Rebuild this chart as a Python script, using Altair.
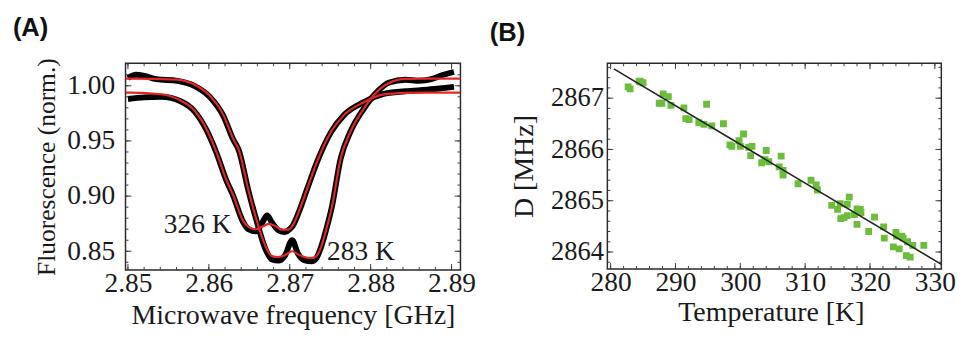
import altair as alt
import pandas as pd

# ---------------- Panel A data (ODMR spectra) ----------------
fit326_f = [2.8497, 2.8504, 2.8541, 2.8565, 2.8582, 2.8597, 2.8609, 2.8622, 2.8630, 2.8642,
            2.8649, 2.8658, 2.8666, 2.8674, 2.8682, 2.8690, 2.8698, 2.8704, 2.8712, 2.8722,
            2.8734, 2.8751, 2.8767, 2.8791, 2.8815, 2.8843, 2.8870, 2.8911]
fit326_v = [0.9938, 0.9938, 0.9923, 0.9867, 0.9778, 0.9609, 0.9405, 0.9139, 0.9010, 0.8780,
            0.8722, 0.8700, 0.8722, 0.8749, 0.8731, 0.8696, 0.8696, 0.8740, 0.8873, 0.9077,
            0.9317, 0.9583, 0.9734, 0.9849, 0.9920, 0.9935, 0.9938, 0.9938]

fit283_f = [2.8497, 2.8504, 2.8561, 2.8582, 2.8601, 2.8618, 2.8630, 2.8637, 2.8649, 2.8660,
            2.8670, 2.8678, 2.8686, 2.8694, 2.8703, 2.8710, 2.8718, 2.8727, 2.8733, 2.8739,
            2.8746, 2.8752, 2.8763, 2.8775, 2.8791, 2.8807, 2.8823, 2.8843, 2.8870, 2.8911]
fit283_v = [1.0065, 1.0065, 1.0056, 1.0011, 0.9911, 0.9734, 0.9521, 0.9420, 0.9051, 0.8758,
            0.8545, 0.8456, 0.8447, 0.8465, 0.8500, 0.8474, 0.8447, 0.8438, 0.8456, 0.8545,
            0.8722, 0.8900, 0.9343, 0.9583, 0.9787, 0.9938, 1.0027, 1.0062, 1.0065, 1.0065]

data326_f = [2.8500, 2.8520, 2.8541, 2.8565, 2.8582, 2.8597, 2.8609, 2.8622, 2.8630, 2.8642,
             2.8649, 2.8658, 2.8666, 2.8672, 2.8678, 2.8686, 2.8694, 2.8700, 2.8704, 2.8712,
             2.8722, 2.8734, 2.8751, 2.8767, 2.8791, 2.8815, 2.8843, 2.8870, 2.8885, 2.8903]
data326_v = [0.9880, 0.9895, 0.9900, 0.9860, 0.9770, 0.9600, 0.9400, 0.9135, 0.9005, 0.8770,
             0.8700, 0.8680, 0.8760, 0.8825, 0.8760, 0.8690, 0.8675, 0.8700, 0.8735, 0.8870,
             0.9075, 0.9315, 0.9580, 0.9734, 0.9849, 0.9925, 0.9950, 0.9965, 0.9975, 0.9990]

data283_f = [2.8500, 2.8510, 2.8520, 2.8535, 2.8561, 2.8582, 2.8601, 2.8618, 2.8630, 2.8637,
             2.8649, 2.8660, 2.8670, 2.8678, 2.8686, 2.8694, 2.8703, 2.8710, 2.8718, 2.8727,
             2.8733, 2.8739, 2.8746, 2.8752, 2.8763, 2.8775, 2.8791, 2.8807, 2.8823, 2.8843,
             2.8860, 2.8875, 2.8890, 2.8903]
data283_v = [1.0070, 1.0100, 1.0090, 1.0060, 1.0045, 1.0000, 0.9900, 0.9725, 0.9515, 0.9415,
             0.9045, 0.8750, 0.8520, 0.8425, 0.8415, 0.8460, 0.8600, 0.8480, 0.8420, 0.8410,
             0.8440, 0.8545, 0.8722, 0.8900, 0.9343, 0.9583, 0.9787, 0.9938, 1.0030, 1.0055,
             1.0045, 1.0060, 1.0100, 1.0125]

label_text = ["326 K", "283 K"]
label_f = [2.8628, 2.8746]
label_v = [0.8740, 0.8491]
label_align = ["right", "left"]

a_xticks = [2.85, 2.86, 2.87, 2.88, 2.89]
a_yticks = [0.85, 0.90, 0.95, 1.00]
a_xdomain = [2.8497, 2.8911]
a_ydomain = [0.8331, 1.0204]

# ---------------- Panel B data (D vs temperature) ----------------
temp_K = [282.7, 283.0, 284.4, 284.6, 285.0, 287.5, 287.9, 288.1, 288.9, 289.3,
          291.3, 291.6, 292.1, 293.6, 294.4, 294.8, 295.6, 297.4, 298.4, 298.7,
          299.8, 300.0, 300.5, 301.3, 301.6, 301.8, 303.3, 303.8, 304.0, 304.4,
          306.0, 306.3, 306.6, 306.6, 308.9, 310.9, 311.7, 311.9, 314.1, 315.0,
          315.4, 315.5, 316.0, 316.5, 316.8, 316.5, 317.6, 318.0, 318.0, 318.6,
          318.5, 319.8, 320.7, 322.1, 322.2, 323.6, 324.0, 324.1, 324.5, 324.9,
          325.1, 325.6, 326.2, 325.8, 326.6, 328.3]
D_MHz = [2867.22, 2867.18, 2867.33, 2867.32, 2867.30, 2866.90, 2866.90, 2867.08, 2867.03, 2866.86,
         2866.81, 2866.60, 2866.58, 2866.52, 2866.49, 2866.88, 2866.46, 2866.50, 2866.09, 2866.06,
         2866.17, 2866.06, 2866.30, 2866.04, 2865.88, 2866.06, 2865.74, 2865.80, 2865.98, 2865.76,
         2865.66, 2865.87, 2865.50, 2865.59, 2865.33, 2865.40, 2865.31, 2865.21, 2864.91, 2864.83,
         2864.94, 2864.65, 2864.67, 2864.71, 2865.07, 2864.93, 2864.73, 2864.84, 2864.54, 2864.77,
         2864.83, 2864.40, 2864.68, 2864.49, 2864.27, 2864.10, 2864.38, 2864.31, 2864.06, 2864.31,
         2864.27, 2863.93, 2863.90, 2864.20, 2864.13, 2864.13]
fit_T = [280.5, 331.0]
fit_D = [2867.57, 2863.76]

b_xticks = [280, 290, 300, 310, 320, 330]
b_yticks = [2864, 2865, 2866, 2867]
b_xdomain = [279.5, 331.0]
b_ydomain = [2863.67, 2867.68]

# ---------------- helpers ----------------
SERIF = "'Liberation Serif', 'Times New Roman', Times, serif"
TXT = "#1a1a1a"
WA, HA = 342, 211
WB, HB = 341, 210


def axis(**kw):
    base = dict(ticks=False, domain=False, grid=False, labelFlush=False,
                labelFont=SERIF, labelFontSize=28, labelColor=TXT,
                titleFont=SERIF, titleFontSize=28.5, titleFontWeight="normal",
                titleColor=TXT, labelOverlap=False)
    base.update(kw)
    return alt.Axis(**base)


def frame_ticks(xf, yf, xvals, yvals, W, H, length, X, Y):
    dx = pd.DataFrame({xf: xvals})
    dy = pd.DataFrame({yf: yvals})
    st = dict(color="#3a3a3a", strokeWidth=1)
    bot = alt.Chart(dx).mark_rule(**st).encode(
        x=X, y=alt.value(H), y2=alt.value(H - length))
    top = alt.Chart(dx).mark_rule(**st).encode(
        x=X, y=alt.value(0), y2=alt.value(length))
    lef = alt.Chart(dy).mark_rule(**st).encode(
        y=Y, x=alt.value(0), x2=alt.value(length))
    rig = alt.Chart(dy).mark_rule(**st).encode(
        y=Y, x=alt.value(W), x2=alt.value(W - length))
    return [bot, top, lef, rig]


# ---------------- Panel A ----------------
xsA = alt.Scale(domain=a_xdomain, nice=False, zero=False)
ysA = alt.Scale(domain=a_ydomain, nice=False, zero=False)

fits = pd.concat([
    pd.DataFrame({"f": fit326_f, "v": fit326_v, "s": "326"}),
    pd.DataFrame({"f": fit283_f, "v": fit283_v, "s": "283"}),
])
meas = pd.concat([
    pd.DataFrame({"f": data326_f, "v": data326_v, "s": "326"}),
    pd.DataFrame({"f": data283_f, "v": data283_v, "s": "283"}),
])

axXA = axis(values=a_xticks, format=".2f", title="Microwave frequency [GHz]",
            labelPadding=0, titlePadding=4)
axYA = axis(values=a_yticks, format=".2f", title="Fluorescence (norm.)",
            labelPadding=11, titlePadding=8, titleFontSize=26)
xA = alt.X("f:Q", scale=xsA, axis=axXA)
yA = alt.Y("v:Q", scale=ysA, axis=axYA)

black = alt.Chart(meas).mark_line(color="black", strokeWidth=6, clip=True,
                                  interpolate="monotone").encode(x=xA, y=yA, detail="s:N")
red = alt.Chart(fits).mark_line(color="#e52626", strokeWidth=2.2, clip=True,
                                interpolate="monotone").encode(x=xA, y=yA, detail="s:N")

lab = pd.DataFrame({"t": label_text, "f": label_f, "v": label_v, "a": label_align})
txt_r = alt.Chart(lab[lab.a == "right"]).mark_text(
    align="right", baseline="middle", font=SERIF, fontSize=28, color=TXT).encode(
    x=xA, y=yA, text="t:N")
txt_l = alt.Chart(lab[lab.a == "left"]).mark_text(
    align="left", baseline="middle", font=SERIF, fontSize=28, color=TXT).encode(
    x=xA, y=yA, text="t:N")

a_minor_x = [round(2.85 + 0.002 * i, 3) for i in range(21)]
a_minor_y = [round(0.84 + 0.01 * i, 2) for i in range(19)]

ticksA = frame_ticks("f", "v", a_xticks, a_yticks, WA, HA, 6, xA, yA) + \
    frame_ticks("f", "v", a_minor_x, a_minor_y, WA, HA, 3, xA, yA)

panelA = alt.layer(black, red, txt_r, txt_l, *ticksA).properties(
    width=WA, height=HA,
    title=alt.TitleParams("(A)", anchor="start", frame="group", dx=-115,
                          font="Liberation Sans", fontWeight="bold", fontSize=26,
                          offset=17, color="#111"))

# ---------------- Panel B ----------------
xsB = alt.Scale(domain=b_xdomain, nice=False, zero=False)
ysB = alt.Scale(domain=b_ydomain, nice=False, zero=False)

pts = pd.DataFrame({"T": temp_K, "D": D_MHz})
fitB = pd.DataFrame({"T": fit_T, "D": fit_D})

axXB = axis(values=b_xticks, format="d", title="Temperature [K]",
            labelPadding=0, titlePadding=2, titleX=167)
axYB = axis(values=b_yticks, format="d", title="D [MHz]",
            labelPadding=4, titlePadding=12, labelFontSize=27)
xB = alt.X("T:Q", scale=xsB, axis=axXB)
yB = alt.Y("D:Q", scale=ysB, axis=axYB)

sq = alt.Chart(pts).mark_square(size=49, color="#6cbd3c", opacity=1, clip=True).encode(x=xB, y=yB)
ln = alt.Chart(fitB).mark_line(color="#222", strokeWidth=1.6, clip=True).encode(x=xB, y=yB)

b_minor_x = [280 + 2 * i for i in range(26)]
b_minor_y = [round(2863.8 + 0.2 * i, 1) for i in range(20)]
ticksB = frame_ticks("T", "D", b_xticks, b_yticks, WB, HB, 6, xB, yB) + \
    frame_ticks("T", "D", b_minor_x, b_minor_y, WB, HB, 3, xB, yB)

panelB = alt.layer(sq, ln, *ticksB).properties(
    width=WB, height=HB,
    title=alt.TitleParams("(B)", anchor="start", frame="group", dx=-120,
                          font="Liberation Sans", fontWeight="bold", fontSize=26,
                          offset=17, color="#111"))

chart = alt.hconcat(panelA, panelB, spacing=150, bounds="flush").properties(
    padding={"left": 4, "top": 3, "right": 0, "bottom": 0},
    background="white",
).configure(
    font=SERIF
).configure_axis(
    labelFont=SERIF, titleFont=SERIF
).configure_view(
    stroke="#2a2a2a", strokeWidth=1.5
)

chart.save("out.html", embed_options={"renderer": "svg", "actions": False})
